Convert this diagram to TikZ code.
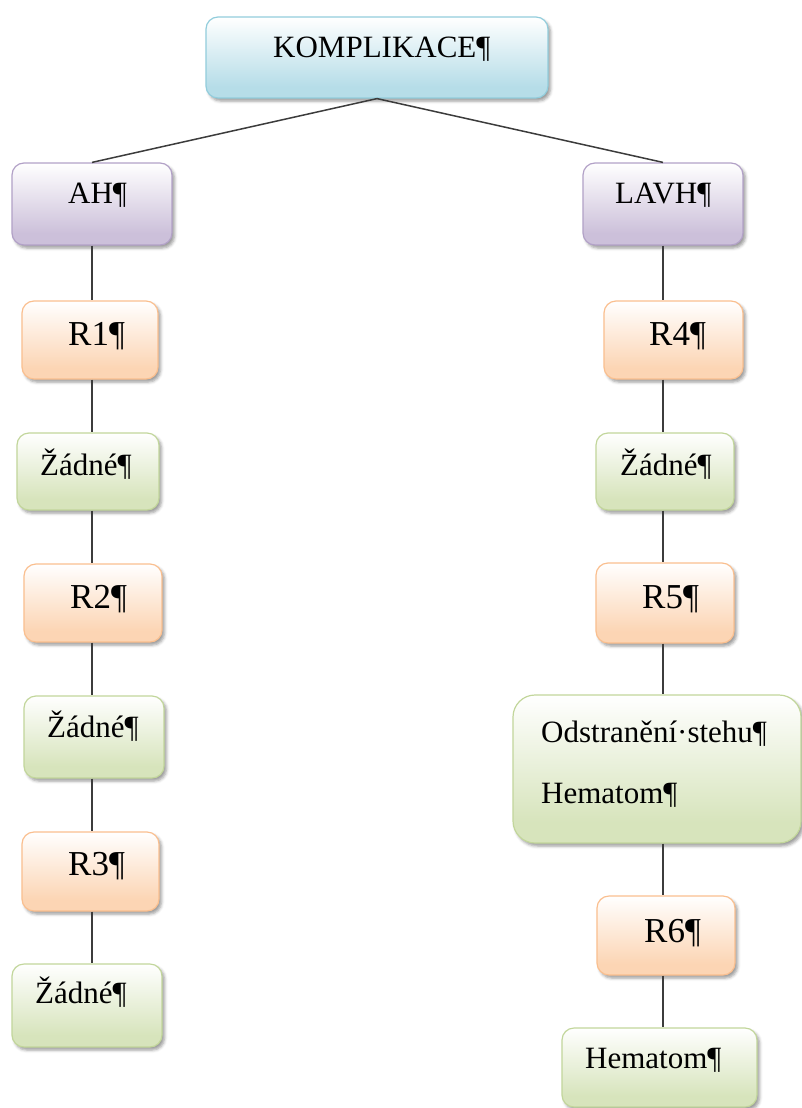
\documentclass[tikz,border=0pt]{standalone}
\usepackage{fontspec}
\setmainfont{Liberation Serif}
\usetikzlibrary{shadows.blur}

% box colours: shaded fill (bottom) and outline
\definecolor{bluefill}{HTML}{B6DDE8}
\definecolor{blueline}{HTML}{92CDDC}
\definecolor{purplefill}{HTML}{CCC0DA}
\definecolor{purpleline}{HTML}{B2A1C7}
\definecolor{orangefill}{HTML}{FCD5B4}
\definecolor{orangeline}{HTML}{FABF8F}
\definecolor{greenfill}{HTML}{D7E4BC}
\definecolor{greenline}{HTML}{C2D69B}
\definecolor{linkgray}{HTML}{3C3C3C}

% white at the top, full colour towards the bottom
\pgfdeclareverticalshading{blueshade}{100bp}{color(0bp)=(bluefill); color(32bp)=(bluefill); color(75bp)=(white); color(100bp)=(white)}
\pgfdeclareverticalshading{purpleshade}{100bp}{color(0bp)=(purplefill); color(32bp)=(purplefill); color(75bp)=(white); color(100bp)=(white)}
\pgfdeclareverticalshading{orangeshade}{100bp}{color(0bp)=(orangefill); color(32bp)=(orangefill); color(75bp)=(white); color(100bp)=(white)}
\pgfdeclareverticalshading{greenshade}{100bp}{color(0bp)=(greenfill); color(32bp)=(greenfill); color(75bp)=(white); color(100bp)=(white)}

\tikzset{
  box/.style={draw, line width=1.2pt, rounded corners=12pt, inner sep=0pt, shade,
    blur shadow={shadow xshift=2.5pt, shadow yshift=-3pt, shadow blur radius=3pt, shadow opacity=40}},
  topbox/.style={box, draw=blueline, shading=blueshade},
  armbox/.style={box, draw=purpleline, shading=purpleshade},
  roundbox/.style={box, draw=orangeline, shading=orangeshade},
  resbox/.style={box, draw=greenline, shading=greenshade},
  lbl/.style={anchor=base west, inner sep=0pt, font=\rmfamily\fontsize{31}{37}\selectfont},
  rlbl/.style={anchor=base west, inner sep=0pt, font=\rmfamily\fontsize{35}{42}\selectfont},
  link/.style={draw=linkgray, line width=1.5pt},
}

\begin{document}
\begin{tikzpicture}[x=1pt, y=-1pt]
\useasboundingbox (0,0) rectangle (802,1108);

% ---- boxes ----
\node[topbox, minimum width=342pt, minimum height=81pt] (komp) at (377,57.5) {};
\node[armbox, minimum width=160pt, minimum height=82pt] (ah) at (92,204) {};
\node[armbox, minimum width=160pt, minimum height=82pt] (lavh) at (663,204) {};

\node[roundbox, minimum width=136pt, minimum height=78pt] (r1) at (90,340) {};
\node[resbox, minimum width=142pt, minimum height=77pt] (z1) at (88,471.5) {};
\node[roundbox, minimum width=138pt, minimum height=78pt] (r2) at (93,603) {};
\node[resbox, minimum width=140pt, minimum height=82pt] (z2) at (94,737) {};
\node[roundbox, minimum width=137pt, minimum height=79pt] (r3) at (90.5,871.5) {};
\node[resbox, minimum width=150pt, minimum height=83pt] (z3) at (87,1005.5) {};

\node[roundbox, minimum width=139pt, minimum height=78pt] (r4) at (673.5,340) {};
\node[resbox, minimum width=138pt, minimum height=77pt] (z4) at (665,471.5) {};
\node[roundbox, minimum width=138pt, minimum height=80pt] (r5) at (665,603) {};
\node[resbox, minimum width=288pt, minimum height=148pt, rounded corners=22pt] (odst) at (657,769) {};
\node[roundbox, minimum width=138pt, minimum height=79pt] (r6) at (666,935.5) {};
\node[resbox, minimum width=195pt, minimum height=79pt] (hem) at (659.5,1067.5) {};

% ---- texts ----
\node[lbl] (komptxt) at (273,58) {KOMPLIKACE¶};
\node[lbl] (ahtxt) at (68,203) {AH¶};
\node[lbl] (lavhtxt) at (615,203) {LAVH¶};
\node[rlbl] (r1txt) at (68,345) {R1¶};
\node[lbl] (z1txt) at (40,475) {Žádné¶};
\node[rlbl] (r2txt) at (70,608) {R2¶};
\node[lbl] (z2txt) at (47,737) {Žádné¶};
\node[rlbl] (r3txt) at (68,875) {R3¶};
\node[lbl] (z3txt) at (35,1003) {Žádné¶};
\node[rlbl] (r4txt) at (649,345) {R4¶};
\node[lbl] (z4txt) at (620,475) {Žádné¶};
\node[rlbl] (r5txt) at (642,608) {R5¶};
\node[lbl] (odsttxt) at (541,742) {Odstranění·stehu¶};
\node[lbl] (odsttxtb) at (541,803) {Hematom¶};
\node[rlbl] (r6txt) at (644,942) {R6¶};
\node[lbl] (hemtxt) at (585,1068) {Hematom¶};

% ---- connectors ----
\draw[link] (komp.south) -- (ah.north);
\draw[link] (komp.south) -- (lavh.north);

\draw[link] (ah.south) -- (ah.south |- r1.north);
\draw[link] (ah.south |- r1.south) -- (ah.south |- z1.north);
\draw[link] (ah.south |- z1.south) -- (ah.south |- r2.north);
\draw[link] (ah.south |- r2.south) -- (ah.south |- z2.north);
\draw[link] (ah.south |- z2.south) -- (ah.south |- r3.north);
\draw[link] (ah.south |- r3.south) -- (ah.south |- z3.north);

\draw[link] (lavh.south) -- (lavh.south |- r4.north);
\draw[link] (lavh.south |- r4.south) -- (lavh.south |- z4.north);
\draw[link] (lavh.south |- z4.south) -- (lavh.south |- r5.north);
\draw[link] (lavh.south |- r5.south) -- (lavh.south |- odst.north);
\draw[link] (lavh.south |- odst.south) -- (lavh.south |- r6.north);
\draw[link] (lavh.south |- r6.south) -- (lavh.south |- hem.north);
\end{tikzpicture}
\end{document}
